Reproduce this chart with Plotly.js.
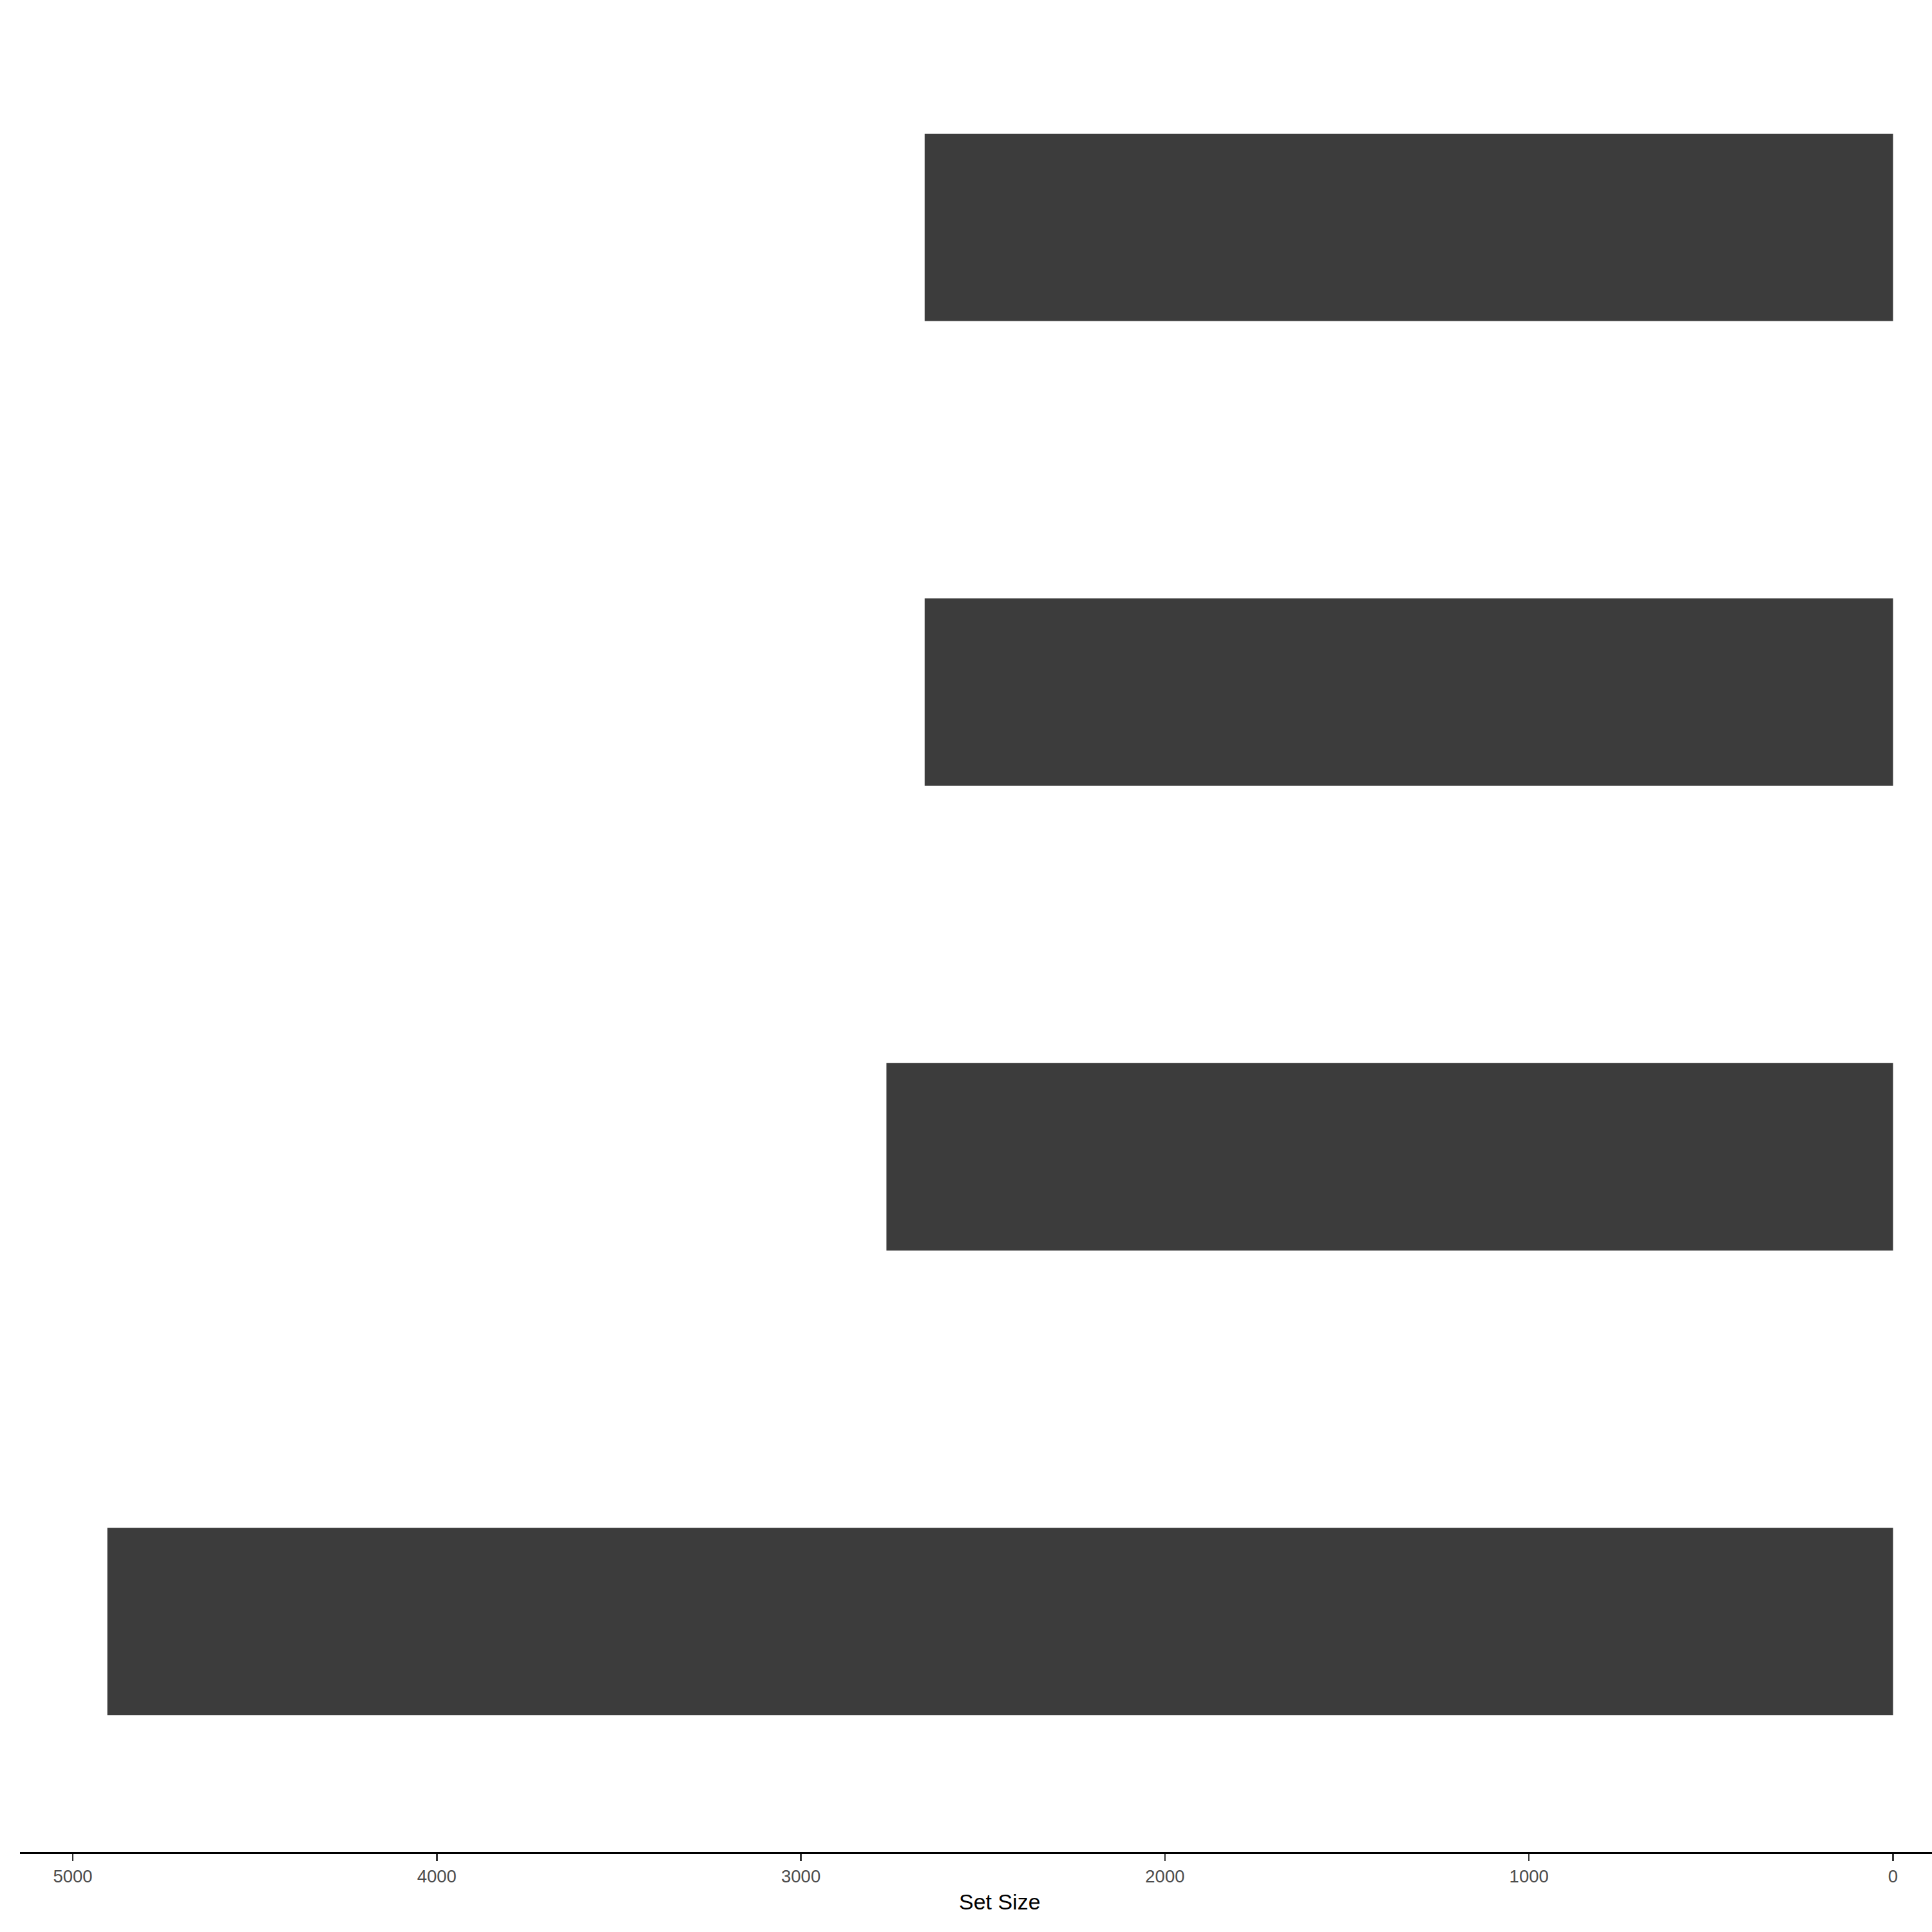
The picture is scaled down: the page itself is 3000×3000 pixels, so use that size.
<!DOCTYPE html>
<html>
<head>
<meta charset="utf-8">
<script src="https://cdn.plot.ly/plotly-3.0.1.min.js"></script>
<style>html,body{margin:0;padding:0;background:#fff;}</style>
</head>
<body>
<div id="chart" style="width:3000px;height:3000px;"></div>
<script>
// Set sizes, bottom to top
var setPositions = [0, 1, 2, 3];
var setSizes = [4905, 2765, 2660, 2660];
var tickValues = [0, 1000, 2000, 3000, 4000, 5000];
var tickLabels = ['0', '1000', '2000', '3000', '4000', '5000'];
var axisTitle = 'Set Size';

var trace = {
  type: 'bar',
  orientation: 'h',
  x: setSizes,
  y: setPositions,
  width: 0.403,
  marker: {color: '#3c3c3c', line: {width: 0}},
  hoverinfo: 'x'
};

var layout = {
  width: 3000,
  height: 3000,
  margin: {l: 31, r: 0, t: 0, b: 124, pad: 0},
  paper_bgcolor: '#ffffff',
  plot_bgcolor: '#ffffff',
  showlegend: false,
  font: {family: 'Liberation Sans, Arial, sans-serif'},
  xaxis: {
    range: [5145, -107],
    tickmode: 'array',
    tickvals: tickValues,
    ticktext: tickLabels,
    showgrid: false,
    zeroline: false,
    showline: true,
    linecolor: '#000000',
    linewidth: 2.5,
    ticks: 'outside',
    ticklen: 11,
    tickwidth: 2.5,
    tickcolor: '#333333',
    tickfont: {size: 27.5, color: '#4d4d4d', family: 'Liberation Sans, Arial, sans-serif'},
    automargin: false,
    fixedrange: true
  },
  yaxis: {
    range: [-0.4964, 3.4893],
    showgrid: false,
    zeroline: false,
    showline: false,
    showticklabels: false,
    ticks: '',
    fixedrange: true
  },
  annotations: [{
    text: axisTitle,
    xref: 'paper', yref: 'paper',
    x: 0.5126, y: -0.0266,
    xanchor: 'center', yanchor: 'middle',
    showarrow: false,
    font: {size: 34, color: '#000000', family: 'Liberation Sans, Arial, sans-serif'}
  }]
};

Plotly.newPlot('chart', [trace], layout, {displayModeBar: false, staticPlot: true});
</script>
</body>
</html>
